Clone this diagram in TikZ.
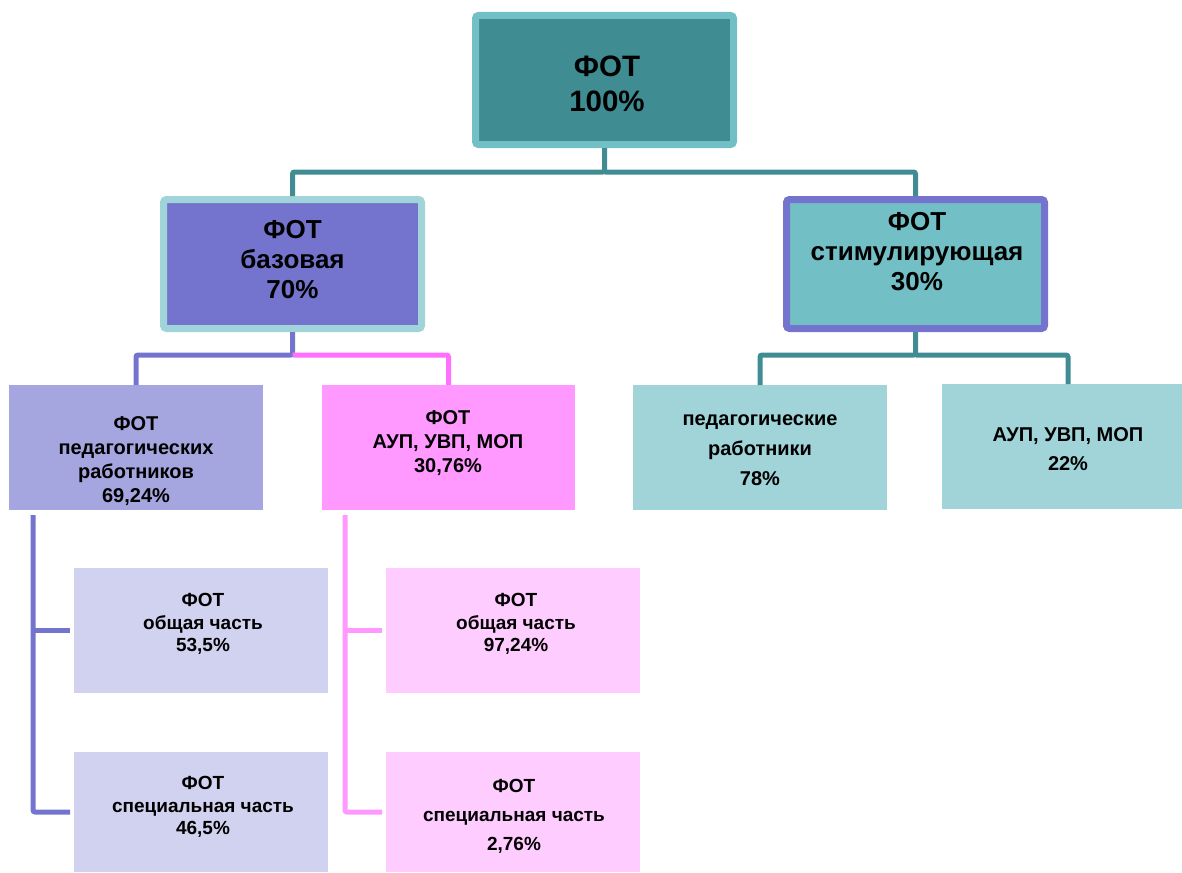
\documentclass[tikz,border=0pt]{standalone}
\usepackage{fontspec}
\setmainfont{Liberation Sans}
\usetikzlibrary{calc}
\definecolor{dteal}{HTML}{3F8D93}
\definecolor{lteal}{HTML}{72BFC5}
\definecolor{pteal}{HTML}{A0D4D8}
\definecolor{purp}{HTML}{7474CF}
\definecolor{lpurp}{HTML}{A5A5E0}
\definecolor{vlpurp}{HTML}{D1D1F0}
\definecolor{pink}{HTML}{FF99FF}
\definecolor{lpink}{HTML}{FFCCFF}
\definecolor{hpink}{HTML}{FF70FF}
\begin{document}
\begin{tikzpicture}[x=1pt,y=-1pt,
  bigbox/.style={rectangle, line width=7pt, rounded corners=3pt, inner sep=0pt, minimum width=258pt, minimum height=129pt},
  flatbox/.style={rectangle, inner sep=0pt, outer sep=0pt},
  conn/.style={line width=5pt, rounded corners=2pt},
  lbl/.style={align=center, inner sep=0pt, font=\bfseries},
  tA/.style={lbl, font=\fontsize{29.5}{35}\selectfont\bfseries},
  tB/.style={lbl, font=\fontsize{26}{30}\selectfont\bfseries},
  tC/.style={lbl, font=\fontsize{20}{24}\selectfont\bfseries},
  tD/.style={lbl, font=\fontsize{19}{22.5}\selectfont\bfseries}]
\useasboundingbox (0,0) rectangle (1182,872);

% level 1
\node[bigbox, draw=lteal, fill=dteal] (top) at (604.5,80) {};
% level 2
\node[bigbox, draw=pteal, fill=purp] (baz) at (292.5,264) {};
\node[bigbox, draw=purp, fill=lteal] (stim) at (915.5,264) {};
% level 3
\node[flatbox, fill=lpurp, minimum width=254pt, minimum height=125pt] (ped) at (136,447.5) {};
\node[flatbox, fill=pink, minimum width=253pt, minimum height=125pt] (aup) at (448.5,447.5) {};
\node[flatbox, fill=pteal, minimum width=254pt, minimum height=125pt] (sped) at (760,447.5) {};
\node[flatbox, fill=pteal, minimum width=240pt, minimum height=125pt] (saup) at (1062,446.5) {};
% level 4
\node[flatbox, fill=vlpurp, minimum width=254pt, minimum height=125pt] (og) at (201,630.5) {};
\node[flatbox, fill=vlpurp, minimum width=254pt, minimum height=120pt] (sp) at (201,812) {};
\node[flatbox, fill=lpink, minimum width=254pt, minimum height=125pt] (pog) at (513,630.5) {};
\node[flatbox, fill=lpink, minimum width=254pt, minimum height=120pt] (psp) at (513,812) {};

% connectors
\coordinate (j1) at (604.5,172);
\draw[conn, dteal] (top.south) -- (j1) -| (baz.north);
\draw[conn, dteal] (j1) -| (stim.north);
\coordinate (j2) at (292.5,355);
\draw[conn, purp] (baz.south) -- (j2) -| (ped.north);
\draw[conn, hpink] (j2) -| (aup.north);
\coordinate (j3) at (915.5,355);
\draw[conn, dteal] (stim.south) -- (j3) -| (sped.north);
\coordinate (saupin) at (1068,384);
\draw[conn, dteal] (j3) -| (saupin);

\coordinate (p0) at (33,515);
\draw[conn, purp, shorten >=4pt] (p0) |- (sp.west);
\draw[conn, purp, shorten >=4pt, rounded corners=0pt] (p0 |- og.west) -- (og.west);
\coordinate (q0) at (345,515);
\draw[conn, pink, shorten >=4pt] (q0) |- (psp.west);
\draw[conn, pink, shorten >=4pt, rounded corners=0pt] (q0 |- pog.west) -- (pog.west);

% texts
\node[tA] (topt) at (607,84) {ФОТ\\100\%};
\node[tB] (bazt) at (292.5,260) {ФОТ\\базовая\\70\%};
\node[tB] (stimt) at (917,252) {ФОТ\\стимулирующая\\30\%};
\node[tC] (pedt) at (136,461) {ФОТ\\педагогических\\работников\\69,24\%};
\node[tC] (aupt) at (448,443) {ФОТ\\АУП, УВП, МОП\\30,76\%};
\node[tC, font=\fontsize{20}{30}\selectfont\bfseries] (spedt) at (760,450) {педагогические\\работники\\78\%};
\node[tC, font=\fontsize{20}{29}\selectfont\bfseries] (saupt) at (1068,449) {АУП, УВП, МОП\\22\%};
\node[tD] (ogt) at (203,624) {ФОТ\\общая часть\\53,5\%};
\node[tD] (spt) at (203,807) {ФОТ\\специальная часть\\46,5\%};
\node[tD] (pogt) at (516,624) {ФОТ\\общая часть\\97,24\%};
\node[tD, font=\fontsize{19}{29}\selectfont\bfseries] (pspt) at (514,816) {ФОТ\\специальная часть\\2,76\%};
\end{tikzpicture}
\end{document}
